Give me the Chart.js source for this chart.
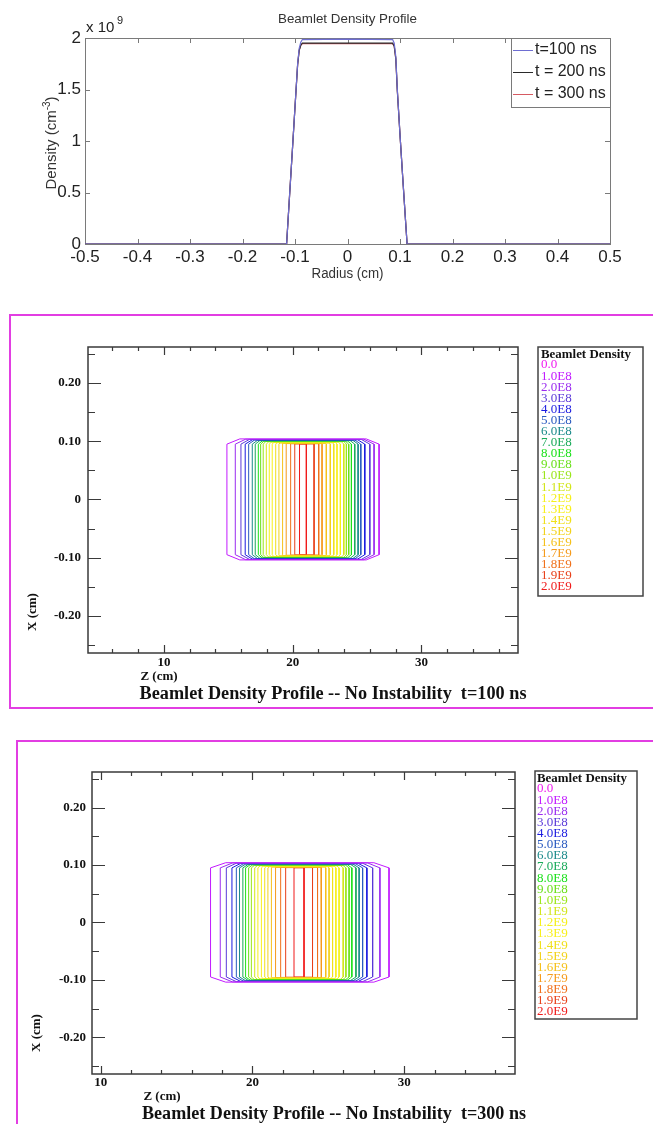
<!DOCTYPE html>
<html lang="es">
<head>
<meta charset="utf-8">
<title>Beamlet Density Profile</title>
<script src="https://cdn.jsdelivr.net/npm/chart.js@4.4.1/dist/chart.umd.min.js"></script>
<style>
  html, body { margin:0; padding:0; background:#fff; }
  #hoja { position:relative; width:653px; height:1124px; overflow:hidden; }
  canvas { position:absolute; left:0; }
</style>
</head>
<body>
<div id="hoja">
  <canvas id="perfil" width="653" height="300" style="top:0"></canvas>
  <canvas id="cont100" width="653" height="400" style="top:310px"></canvas>
  <canvas id="cont300" width="653" height="386" style="top:738px"></canvas>
</div>
<script>
// ---- Panel superior: perfil radial de densidad ----
const radio   = [-0.5, -0.116, -0.11, -0.105, -0.1, -0.095, -0.092, -0.089, -0.086, 0, 0.086, 0.089, 0.092, 0.095, 0.1, 0.105, 0.11, 0.1135, 0.5];
const dens100 = [0, 0, 0.50e9, 0.91e9, 1.33e9, 1.75e9, 1.90e9, 1.96e9, 1.985e9, 1.99e9, 1.985e9, 1.95e9, 1.82e9, 1.49e9, 1.06e9, 0.66e9, 0.27e9, 0, 0];
const dens200 = [0, 0, 0.50e9, 0.91e9, 1.33e9, 1.74e9, 1.88e9, 1.93e9, 1.95e9, 1.95e9, 1.95e9, 1.92e9, 1.80e9, 1.48e9, 1.06e9, 0.66e9, 0.27e9, 0, 0];
const dens300 = [0, 0, 0.50e9, 0.91e9, 1.33e9, 1.74e9, 1.88e9, 1.93e9, 1.945e9, 1.945e9, 1.945e9, 1.92e9, 1.80e9, 1.48e9, 1.06e9, 0.66e9, 0.27e9, 0, 0];
const seriesPerfil = ['t=100 ns', 't = 200 ns', 't = 300 ns'];
const colPerfil    = ['#6e6ed2', '#2a2a2a', '#d65a62'];

// ---- Contornos: niveles de densidad ----
const niveles = ['0.0','1.0E8','2.0E8','3.0E8','4.0E8','5.0E8','6.0E8','7.0E8','8.0E8','9.0E8',
                 '1.0E9','1.1E9','1.2E9','1.3E9','1.4E9','1.5E9','1.6E9','1.7E9','1.8E9','1.9E9','2.0E9'];
const colNiveles = ['#f01af0','#c21aff','#9a2cf0','#5a3ad8','#1a1ae0','#2a5ac0','#1a8a8a','#1aaa5a','#1ae01a','#6ae01a',
                    '#9ae61a','#d2e61a','#f5f01a','#f8f01a','#f0e01a','#f2d21a','#f5c01a','#f59a1a','#f0701a','#e8401a','#f01a1a'];
// extremos en z (cm) de cada contorno 1.0E8 ... 2.0E9
const zIzq100 = [14.89, 15.54, 15.98, 16.31, 16.58, 16.86, 17.09, 17.33, 17.51, 17.71, 17.95, 18.18, 18.41, 18.68, 18.93, 19.19, 19.48, 19.84, 20.16, 20.53];
const zDer100 = [26.71, 26.32, 25.99, 25.60, 25.29, 25.08, 24.82, 24.56, 24.35, 24.17, 23.97, 23.70, 23.44, 23.19, 22.92, 22.61, 22.28, 22.02, 21.66, 21.06];
const zIzq300 = [17.24, 17.88, 18.28, 18.65, 18.94, 19.15, 19.37, 19.55, 19.75, 19.93, 20.15, 20.36, 20.59, 20.81, 21.02, 21.25, 21.51, 21.86, 22.19, 22.74];
const zDer300 = [29.00, 28.40, 27.92, 27.54, 27.26, 27.03, 26.82, 26.55, 26.37, 26.16, 25.98, 25.71, 25.50, 25.28, 25.05, 24.83, 24.55, 24.29, 23.96, 23.40];
// borde superior/inferior (x, cm), lado vertical (x, cm) y esquina (dz, cm)
const xBorde    = [0.104, 0.1035, 0.103, 0.1025, 0.102, 0.1015, 0.101, 0.1005, 0.100, 0.0995, 0.099, 0.0985, 0.098, 0.0975, 0.097, 0.0965, 0.096, 0.0958, 0.0955, 0.0952];
const xLado     = [0.095, 0.095, 0.095, 0.095, 0.095, 0.095, 0.095, 0.095, 0.095, 0.095, 0.095, 0.095, 0.095, 0.095, 0.095, 0.095, 0.095, 0.095, 0.095, 0.095];
const dzEsquina = [1.0, 0.8, 0.65, 0.55, 0.45, 0.4, 0.35, 0.3, 0.25, 0.2, 0.18, 0.15, 0.12, 0.1, 0.08, 0.05, 0.03, 0, 0, 0];

const zMayor    = [10, 20, 30];
const zMenor100 = [6, 8, 12, 14, 16, 18, 22, 24, 26, 28, 32, 34, 36];
const zMenor300 = [12, 14, 16, 18, 22, 24, 26, 28, 32, 34, 36];
const xMayor    = [-0.2, -0.1, 0, 0.1, 0.2];
const xMenor    = [-0.25, -0.15, -0.05, 0.05, 0.15, 0.25];

// texto comprimido/estirado horizontalmente hasta un ancho dado
function textoAncho(ctx, txt, x, y, ancho, align) {
  const w = ctx.measureText(txt).width;
  ctx.save();
  ctx.translate(x, y);
  ctx.scale(ancho ? ancho / w : 1, 1);
  ctx.textAlign = align || 'center';
  ctx.fillText(txt, 0, 0);
  ctx.restore();
}

const perfilPlugin = {
  id: 'perfil',
  beforeDatasetsDraw(chart) {
    const ctx = chart.ctx, a = chart.chartArea, sx = chart.scales.x, sy = chart.scales.y;
    ctx.save();
    ctx.strokeStyle = '#7a7a7a'; ctx.lineWidth = 1;
    ctx.strokeRect(a.left + 0.5, a.top + 0.5, a.right - a.left, a.bottom - a.top);
    ctx.beginPath();
    sx.ticks.forEach(t => {
      const p = Math.round(sx.getPixelForValue(t.value)) + 0.5;
      ctx.moveTo(p, a.bottom); ctx.lineTo(p, a.bottom - 5);
      ctx.moveTo(p, a.top);    ctx.lineTo(p, a.top + 5);
    });
    sy.ticks.forEach(t => {
      const p = Math.round(sy.getPixelForValue(t.value)) + 0.5;
      ctx.moveTo(a.left, p);  ctx.lineTo(a.left + 5, p);
      ctx.moveTo(a.right, p); ctx.lineTo(a.right - 5, p);
    });
    ctx.stroke();
    ctx.restore();
  },
  afterDraw(chart) {
    const ctx = chart.ctx, a = chart.chartArea;
    const cx = (a.left + a.right) / 2;
    ctx.save();
    ctx.fillStyle = '#333';
    ctx.textBaseline = 'middle';
    ctx.font = '13px "Liberation Sans", Arial, sans-serif';
    textoAncho(ctx, 'Beamlet Density Profile', cx, 19, 139);
    ctx.font = '14px "Liberation Sans", Arial, sans-serif';
    textoAncho(ctx, 'Radius (cm)', cx, 274, 72);
    // x 10^9
    ctx.fillStyle = '#222';
    ctx.font = '15px "Liberation Sans", Arial, sans-serif';
    ctx.textAlign = 'left';
    ctx.fillText('x 10', 86, 28);
    ctx.font = '11px "Liberation Sans", Arial, sans-serif';
    ctx.fillText('9', 117, 21);
    // titulo eje y con superindice
    ctx.save();
    ctx.translate(52, 143);
    ctx.rotate(-Math.PI / 2);
    ctx.fillStyle = '#333';
    const f1 = '15px "Liberation Sans", Arial, sans-serif', f2 = '10px "Liberation Sans", Arial, sans-serif';
    ctx.font = f1; const w1 = ctx.measureText('Density (cm').width, w3 = ctx.measureText(')').width;
    ctx.font = f2; const w2 = ctx.measureText('-3').width;
    let x0 = -(w1 + w2 + w3) / 2;
    ctx.font = f1; ctx.fillText('Density (cm', x0, 0);
    ctx.font = f2; ctx.fillText('-3', x0 + w1, -5);
    ctx.font = f1; ctx.fillText(')', x0 + w1 + w2, 0);
    ctx.restore();
    // leyenda
    const lx = 511, ly = 38, lw = 99, lh = 69;
    ctx.fillStyle = '#fff';
    ctx.fillRect(lx, ly, lw, lh);
    ctx.strokeStyle = '#7a7a7a'; ctx.lineWidth = 1;
    ctx.strokeRect(lx + 0.5, ly + 0.5, lw, lh);
    ctx.font = '16px "Liberation Sans", Arial, sans-serif';
    chart.data.datasets.forEach((d, i) => {
      const y = 50 + i * 22;
      ctx.strokeStyle = d.borderColor;
      ctx.beginPath(); ctx.moveTo(513, y + 0.5); ctx.lineTo(533, y + 0.5); ctx.stroke();
      ctx.fillStyle = '#222';
      ctx.textAlign = 'left';
      ctx.fillText(d.label, 535, y);
    });
    ctx.restore();
  }
};

new Chart(document.getElementById('perfil'), {
  type: 'line',
  data: {
    datasets: [dens100, dens200, dens300].map((serie, i) => ({
      label: seriesPerfil[i],
      data: radio.map((r, k) => ({ x: r, y: serie[k] })),
      borderColor: colPerfil[i], borderWidth: 1.2, pointRadius: 0, tension: 0, fill: false
    }))
  },
  options: {
    responsive: false, animation: false,
    layout: { padding: { left: 0, right: 43, top: 38, bottom: 16 } },
    plugins: { legend: { display: false }, title: { display: false }, tooltip: { enabled: false } },
    scales: {
      x: {
        type: 'linear', min: -0.5, max: 0.5,
        grid: { display: false, drawTicks: false }, border: { display: false },
        ticks: { stepSize: 0.1, padding: 3, color: '#222', maxRotation: 0,
                 font: { family: 'Liberation Sans', size: 17 },
                 callback: v => Math.abs(v) < 1e-9 ? '0' : String(parseFloat(v.toFixed(1))) },
        afterFit: s => { s.height = 40; }
      },
      y: {
        min: 0, max: 2e9,
        grid: { display: false, drawTicks: false }, border: { display: false },
        ticks: { stepSize: 0.5e9, padding: 4, color: '#222',
                 font: { family: 'Liberation Sans', size: 17 },
                 callback: v => String(v / 1e9) },
        afterFit: s => { s.width = 85; }
      }
    }
  },
  plugins: [perfilPlugin]
});

// ---- Paneles de contornos ----
function contornos(zIzq, zDer) {
  return zIzq.map((zl, i) => {
    const zr = zDer[i], a = xLado[i], b = xBorde[i], c = dzEsquina[i];
    return {
      label: niveles[i + 1],
      data: [{x: zl, y: -a}, {x: zl, y: a}, {x: zl + c, y: b}, {x: zr - c, y: b},
             {x: zr, y: a}, {x: zr, y: -a}, {x: zr - c, y: -b}, {x: zl + c, y: -b}, {x: zl, y: -a}],
      showLine: true, borderColor: colNiveles[i + 1], borderWidth: 1, pointRadius: 0, tension: 0, fill: false
    };
  });
}

const contornoPlugin = {
  id: 'contorno',
  beforeDatasetsDraw(chart, args, o) {
    const ctx = chart.ctx, a = chart.chartArea, sx = chart.scales.x, sy = chart.scales.y;
    ctx.save();
    ctx.strokeStyle = '#e23ee2'; ctx.lineWidth = 2;
    ctx.strokeRect(o.marco[0], o.marco[1], 900, o.marco[2]);
    ctx.strokeStyle = '#3a3a3a'; ctx.lineWidth = 1.5;
    ctx.strokeRect(a.left, a.top, a.right - a.left, a.bottom - a.top);
    const marcaX = (vals, l) => vals.forEach(v => {
      const p = Math.round(sx.getPixelForValue(v)) + 0.5;
      ctx.moveTo(p, a.bottom); ctx.lineTo(p, a.bottom - l);
      ctx.moveTo(p, a.top);    ctx.lineTo(p, a.top + l);
    });
    const marcaY = (vals, l) => vals.forEach(v => {
      const p = Math.round(sy.getPixelForValue(v)) + 0.5;
      ctx.moveTo(a.left, p);  ctx.lineTo(a.left + l, p);
      ctx.moveTo(a.right, p); ctx.lineTo(a.right - l, p);
    });
    ctx.lineWidth = 1.2;
    ctx.beginPath();
    marcaX(zMayor, 8); marcaX(o.menores, 4);
    marcaY(xMayor, 13); marcaY(xMenor, 7);
    ctx.stroke();
    ctx.restore();
  },
  afterDraw(chart, args, o) {
    const ctx = chart.ctx;
    ctx.save();
    ctx.textBaseline = 'middle';
    ctx.fillStyle = '#111';
    ctx.font = 'bold 13px "Liberation Serif", serif';
    ctx.textAlign = 'center';
    ctx.fillText('Z (cm)', o.zCm[0], o.zCm[1]);
    ctx.save();
    ctx.translate(o.xCm[0], o.xCm[1]); ctx.rotate(-Math.PI / 2);
    ctx.fillText('X (cm)', 0, 0);
    ctx.restore();
    ctx.font = 'bold 18px "Liberation Serif", serif';
    textoAncho(ctx, o.titulo, o.tit[0], o.tit[1], o.tit[2]);
    // leyenda de niveles
    const [lx, ly, lw, lh, tx, y0, paso] = o.leyenda;
    ctx.strokeStyle = '#444'; ctx.lineWidth = 1.5;
    ctx.strokeRect(lx, ly, lw, lh);
    ctx.fillStyle = '#111';
    ctx.font = 'bold 13px "Liberation Serif", serif';
    textoAncho(ctx, 'Beamlet Density', tx, y0 - paso + 1, 90, 'left');
    ctx.font = '13px "Liberation Serif", serif';
    ctx.textAlign = 'left';
    niveles.forEach((n, i) => {
      ctx.fillStyle = colNiveles[i];
      ctx.fillText(n, tx, y0 + i * paso);
    });
    ctx.restore();
  }
};

function panelContorno(id, zIzq, zDer, zMin, zMax, area, opc) {
  return new Chart(document.getElementById(id), {
    type: 'scatter',
    data: { datasets: contornos(zIzq, zDer) },
    options: {
      responsive: false, animation: false,
      layout: { padding: area.padding },
      plugins: { legend: { display: false }, tooltip: { enabled: false }, contorno: opc },
      scales: {
        x: {
          type: 'linear', min: zMin, max: zMax,
          grid: { display: false, drawTicks: false }, border: { display: false },
          afterBuildTicks: s => { s.ticks = zMayor.map(v => ({ value: v })); },
          ticks: { padding: area.padX, color: '#111', maxRotation: 0,
                   font: { family: 'Liberation Serif', size: 13, weight: 'bold' },
                   callback: v => String(v) },
          afterFit: s => { s.height = 20; }
        },
        y: {
          type: 'linear', min: -0.264, max: 0.262,
          grid: { display: false, drawTicks: false }, border: { display: false },
          afterBuildTicks: s => { s.ticks = xMayor.map(v => ({ value: v })); },
          ticks: { padding: area.padY, color: '#111',
                   font: { family: 'Liberation Serif', size: 13, weight: 'bold' },
                   callback: v => v === 0 ? '0' : v.toFixed(2) },
          afterFit: s => { s.width = area.ancho; }
        }
      }
    },
    plugins: [contornoPlugin]
  });
}

panelContorno('cont100', zIzq100, zDer100, 4.1, 37.5,
  { padding: { left: 0, right: 135, top: 37, bottom: 37 }, padX: 1.5, padY: 7, ancho: 88 },
  { marco: [10, 5, 393], menores: zMenor100,
    titulo: 'Beamlet Density Profile -- No Instability  t=100 ns', tit: [333, 384, 387],
    zCm: [159, 367], xCm: [33, 302],
    leyenda: [538, 37, 105, 249, 541, 55, 11.1] });

panelContorno('cont300', zIzq300, zDer300, 9.43, 37.3,
  { padding: { left: 0, right: 138, top: 34, bottom: 30 }, padX: 1, padY: 6, ancho: 92 },
  { marco: [17, 3, 600], menores: zMenor300,
    titulo: 'Beamlet Density Profile -- No Instability  t=300 ns', tit: [334, 376, 384],
    zCm: [162, 359], xCm: [37, 295],
    leyenda: [535, 33, 102, 248, 537, 51, 11.15] });
</script>
</body>
</html>
